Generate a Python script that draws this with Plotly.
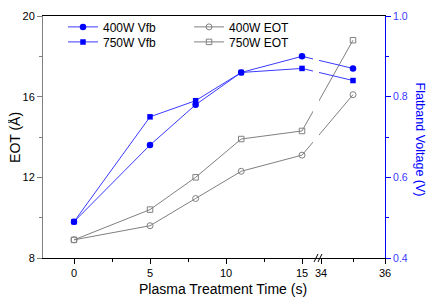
import plotly.graph_objects as go

# ---- data ----
time_s = [0, 5, 8, 11, 15, 35]
vfb_400 = [0.49, 0.68, 0.78, 0.86, 0.90, 0.87]
vfb_750 = [0.49, 0.75, 0.79, 0.86, 0.87, 0.84]
eot_400 = [8.9, 9.6, 10.95, 12.3, 13.1, 16.1]
eot_750 = [8.9, 10.4, 12.0, 13.9, 14.3, 18.8]

x_major_ticks = [0, 5, 10, 15, 34, 36]
x_minor_ticks = [2.5, 7.5, 12.5, 35]
eot_ticks = [8, 12, 16, 20]
vfb_ticks = [0.4, 0.6, 0.8, 1.0]
vfb_minor = [0.5, 0.7, 0.9]

# ---- broken x axis: 0..16 then 34..36 (second segment stretched) ----
SEG1_END = 16.05
SEG2_START = 33.906
SEG2_SCALE = 32 / 15.2


def bx(v):
    return v if v <= SEG1_END else SEG1_END + (v - SEG2_START) * SEG2_SCALE


xs = [bx(v) for v in time_s]

BLUE = "#0000ff"
BLUE_LINE = "#3a3aff"
GREY = "#808080"
FONT = "Liberation Sans, Arial, sans-serif"

fig = go.Figure()
fig.add_trace(go.Scatter(x=xs, y=eot_400, name="400W EOT", mode="lines+markers",
                         line=dict(color=GREY, width=1),
                         marker=dict(symbol="circle-open", size=6, color=GREY, line=dict(width=1)),
                         legend="legend3"))
fig.add_trace(go.Scatter(x=xs, y=eot_750, name="750W EOT", mode="lines+markers",
                         line=dict(color=GREY, width=1),
                         marker=dict(symbol="square-open", size=5.5, color=GREY, line=dict(width=1)),
                         legend="legend4"))
fig.add_trace(go.Scatter(x=xs, y=vfb_400, name="400W Vfb", mode="lines+markers", yaxis="y2",
                         line=dict(color=BLUE_LINE, width=1),
                         marker=dict(symbol="circle", size=6.5, color=BLUE),
                         legend="legend"))
fig.add_trace(go.Scatter(x=xs, y=vfb_750, name="750W Vfb", mode="lines+markers", yaxis="y2",
                         line=dict(color=BLUE_LINE, width=1),
                         marker=dict(symbol="square", size=5.5, color=BLUE),
                         legend="legend2"))

leg = dict(xanchor="left", yanchor="middle", bgcolor="rgba(0,0,0,0)",
           font=dict(size=12, color="black", family=FONT), itemwidth=30)

# page body has an 8px default margin, so the figure is made 8px smaller
fig.update_layout(
    width=429, height=299,
    margin=dict(l=35, r=52, t=8, b=49, autoexpand=False),
    paper_bgcolor="white", plot_bgcolor="white",
    font=dict(family=FONT, color="black"),
    showlegend=True,
    legend=dict(leg, x=0.0585, y=0.955),
    legend2=dict(leg, x=0.0585, y=0.893),
    legend3=dict(leg, x=0.427, y=0.955),
    legend4=dict(leg, x=0.427, y=0.893),
    xaxis=dict(
        range=[-2.04, bx(36)],
        tickvals=[bx(v) for v in x_major_ticks],
        ticktext=[str(v) for v in x_major_ticks],
        ticks="outside", ticklen=5, tickwidth=1, tickcolor="black",
        tickfont=dict(size=11, color="black"),
        minor=dict(tickvals=[bx(v) for v in x_minor_ticks], ticks="outside",
                   ticklen=3, tickcolor="black"),
        showline=True, linecolor="black", linewidth=1, mirror=True,
        showgrid=False, zeroline=False, automargin=False,
    ),
    yaxis=dict(
        range=[8, 20], tickvals=eot_ticks,
        ticks="outside", ticklen=5, tickwidth=1, tickcolor=GREY,
        tickfont=dict(size=11, color="black"),
        minor=dict(dtick=2, ticks="outside", ticklen=3, tickcolor=GREY),
        showline=True, linecolor=GREY, linewidth=1,
        showgrid=False, zeroline=False, automargin=False,
    ),
    yaxis2=dict(
        overlaying="y", side="right", range=[0.4, 1.0],
        tickvals=vfb_ticks, ticktext=["%.1f" % v for v in vfb_ticks],
        ticks="outside", ticklen=5, tickwidth=1, tickcolor=BLUE,
        tickfont=dict(size=10.5, color=BLUE_LINE),
        minor=dict(tickvals=vfb_minor, ticks="outside", ticklen=3, tickcolor=BLUE),
        showline=True, linecolor=BLUE, linewidth=1,
        showgrid=False, zeroline=False, automargin=False,
    ),
    annotations=[
        dict(text="Plasma Treatment Time (s)", xref="paper", yref="paper",
             x=0.526, y=-0.128, xanchor="center", yanchor="middle", showarrow=False,
             font=dict(size=14, color="black")),
        dict(text="EOT (Å)", xref="paper", yref="paper",
             x=-0.082, y=0.5, xanchor="center", yanchor="middle", showarrow=False,
             textangle=-90, font=dict(size=14, color="black")),
        dict(text="Flatband Voltage (V)", xref="paper", yref="paper",
             x=1.102, y=0.49, xanchor="center", yanchor="middle", showarrow=False,
             textangle=90, font=dict(size=12.5, color=BLUE)),
    ],
    shapes=[
        # gap in the connecting lines at the axis break
        dict(type="rect", xref="x", yref="paper", x0=SEG1_END - 0.33, x1=SEG1_END + 0.07,
             y0=0.08, y1=0.97, fillcolor="white", line=dict(width=0), layer="above"),
        # break marks on the x axis
        dict(type="line", xref="x", yref="paper", x0=SEG1_END - 0.26, x1=SEG1_END,
             y0=-0.0165, y1=0.0165, line=dict(color="black", width=1)),
        dict(type="line", xref="x", yref="paper", x0=SEG1_END, x1=SEG1_END + 0.26,
             y0=-0.0165, y1=0.0165, line=dict(color="black", width=1)),
    ],
)

fig.write_html("out.html")
